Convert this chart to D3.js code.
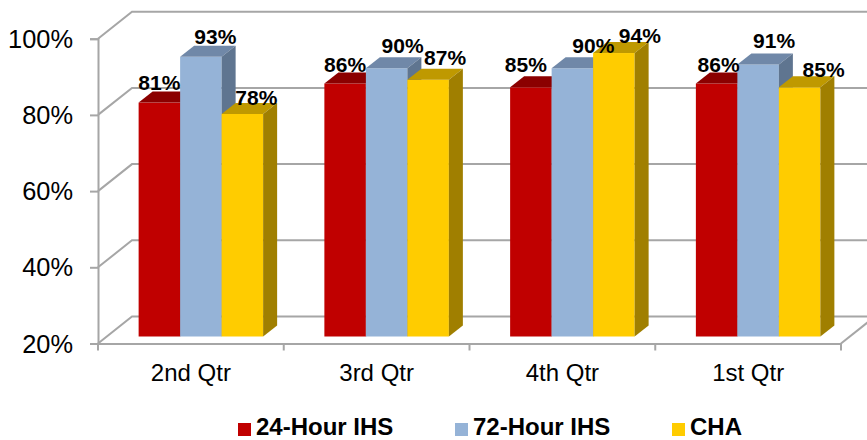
<!DOCTYPE html>
<html>
<head>
<meta charset="utf-8">
<script src="https://cdn.jsdelivr.net/npm/d3@7"></script>
<style>
  html, body { margin: 0; padding: 0; background: #fff; }
  svg { display: block; }
  text { font-family: "Liberation Sans", Arial, sans-serif; fill: #000; }
</style>
</head>
<body>
<script>
'use strict';

const quarters = ["2nd Qtr", "3rd Qtr", "4th Qtr", "1st Qtr"];
const seriesNames = ["24-Hour IHS", "72-Hour IHS", "CHA"];
const ihs24 = [81.4, 86.4, 85.4, 86.4];
const ihs72 = [93.4, 90.4, 90.4, 91.4];
const cha = [78.4, 87.4, 94.4, 85.4];
const yTicks = [20, 40, 60, 80, 100];

// hand placed data labels, they dodge each other in the original
const labelDx = [[0, 14.5, 14], [0, 16, 17], [-5, 21, 26], [2, 16, 24]];
const labelDy = [[-13, -13, -9], [-12, -15, -15], [-15, -15, -10], [-12, -16, -10]];

const fronts = ["#c00000", "#95b3d7", "#ffcc00"];
const tops = ["#8b0000", "#7088a8", "#bf9900"];
const sides = ["#8b0000", "#5f7590", "#a07f00"];
const gridColor = "#a6a6a6";

const width = 867, height = 440;
const wallDx = 34, wallDy = -27;   // floor/wall depth
const barDx = 10, barDy = -7;      // bars sit a bit behind the front edge
const depthDx = 14, depthDy = -11; // depth of the bars themselves

const svg = d3.select("body").append("svg")
  .attr("width", width)
  .attr("height", height);

const x = d3.scaleBand().domain(quarters).range([98, 841]);
const y = d3.scaleLinear().domain([20, 100]).range([343.5, 38.7]);
const barX = d3.scaleBand().domain(seriesNames)
  .range([0, 124.5]);
const groupPad = (x.bandwidth() - barX.range()[1]) / 2;

// back wall gridlines and the diagonals on the left wall
const grid = svg.append("g")
  .attr("stroke", gridColor)
  .attr("stroke-width", 2)
  .attr("fill", "none");

grid.selectAll(".back")
  .data(yTicks)
  .enter()
  .append("path")
  .attr("d", (d) => `M${x.range()[0]},${y(d)}l${wallDx},${wallDy}H${width + 5}`);

// right end of the floor
grid.append("path")
  .attr("d", `M${x.range()[1]},${y(20)}l${wallDx},${wallDy}`);

// axes
const yAxis = svg.append("g")
  .attr("transform", `translate(${x.range()[0]},0)`)
  .call(d3.axisLeft(y).tickValues(yTicks).tickSize(8).tickPadding(17).tickFormat((d) => d + "%"));
yAxis.selectAll("text").style("font-size", "25.4px").attr("dy", "0.34em");

const xAxis = svg.append("g")
  .attr("transform", `translate(0,${y(20)})`)
  .call(d3.axisBottom(x).tickSize(0).tickPadding(20));
xAxis.selectAll("text").style("font-size", "24px");

svg.selectAll("g.tick line, .domain")
  .attr("stroke", gridColor)
  .attr("stroke-width", 2);

svg.append("g")
  .attr("stroke", gridColor)
  .attr("stroke-width", 2)
  .selectAll("line")
  .data(d3.range(quarters.length + 1))
  .enter()
  .append("line")
  .attr("x1", (d) => x.range()[0] + d * x.step())
  .attr("x2", (d) => x.range()[0] + d * x.step())
  .attr("y1", y(20))
  .attr("y2", y(20) + 7);

// bars
const allSeries = [ihs24, ihs72, cha];
const base = y(20) + barDy;

quarters.forEach((q, i) => {
  const group = svg.append("g")
    .attr("transform", `translate(${x(q) + groupPad + barDx},0)`);

  seriesNames.forEach((name, s) => {
    const left = barX(name);
    const w = barX.bandwidth();
    const top = y(allSeries[s][i]) + barDy;

    group.append("rect")
      .attr("x", left)
      .attr("y", top)
      .attr("width", w)
      .attr("height", base - top)
      .attr("fill", fronts[s]);

    group.append("path")
      .attr("d", `M${left},${top}l${depthDx},${depthDy}h${w}l${-depthDx},${-depthDy}z`)
      .attr("fill", tops[s]);

    group.append("path")
      .attr("d", `M${left + w},${top}l${depthDx},${depthDy}V${base + depthDy}l${-depthDx},${-depthDy}z`)
      .attr("fill", sides[s]);
  });
});

// data labels go on last so no bar covers them
quarters.forEach((q, i) => {
  seriesNames.forEach((name, s) => {
    const v = allSeries[s][i];
    svg.append("text")
      .attr("x", x(q) + groupPad + barDx + barX(name) + barX.bandwidth() / 2 + labelDx[i][s])
      .attr("y", y(v) + barDy + labelDy[i][s])
      .attr("text-anchor", "middle")
      .style("font-size", "21px")
      .style("font-weight", "bold")
      .text(Math.round(v) + "%");
  });
});

// legend
const legendX = d3.scalePoint().domain(seriesNames).range([238, 672]);
const legend = svg.selectAll(".legend")
  .data(seriesNames)
  .enter()
  .append("g")
  .attr("class", "legend")
  .attr("transform", (d) => `translate(${legendX(d)},423)`);

legend.append("rect")
  .attr("width", 13)
  .attr("height", 13)
  .attr("fill", (d, i) => fronts[i]);

legend.append("text")
  .attr("x", 18)
  .attr("y", 11.8)
  .style("font-size", "24px")
  .style("font-weight", "bold")
  .text((d) => d);
</script>
</body>
</html>
